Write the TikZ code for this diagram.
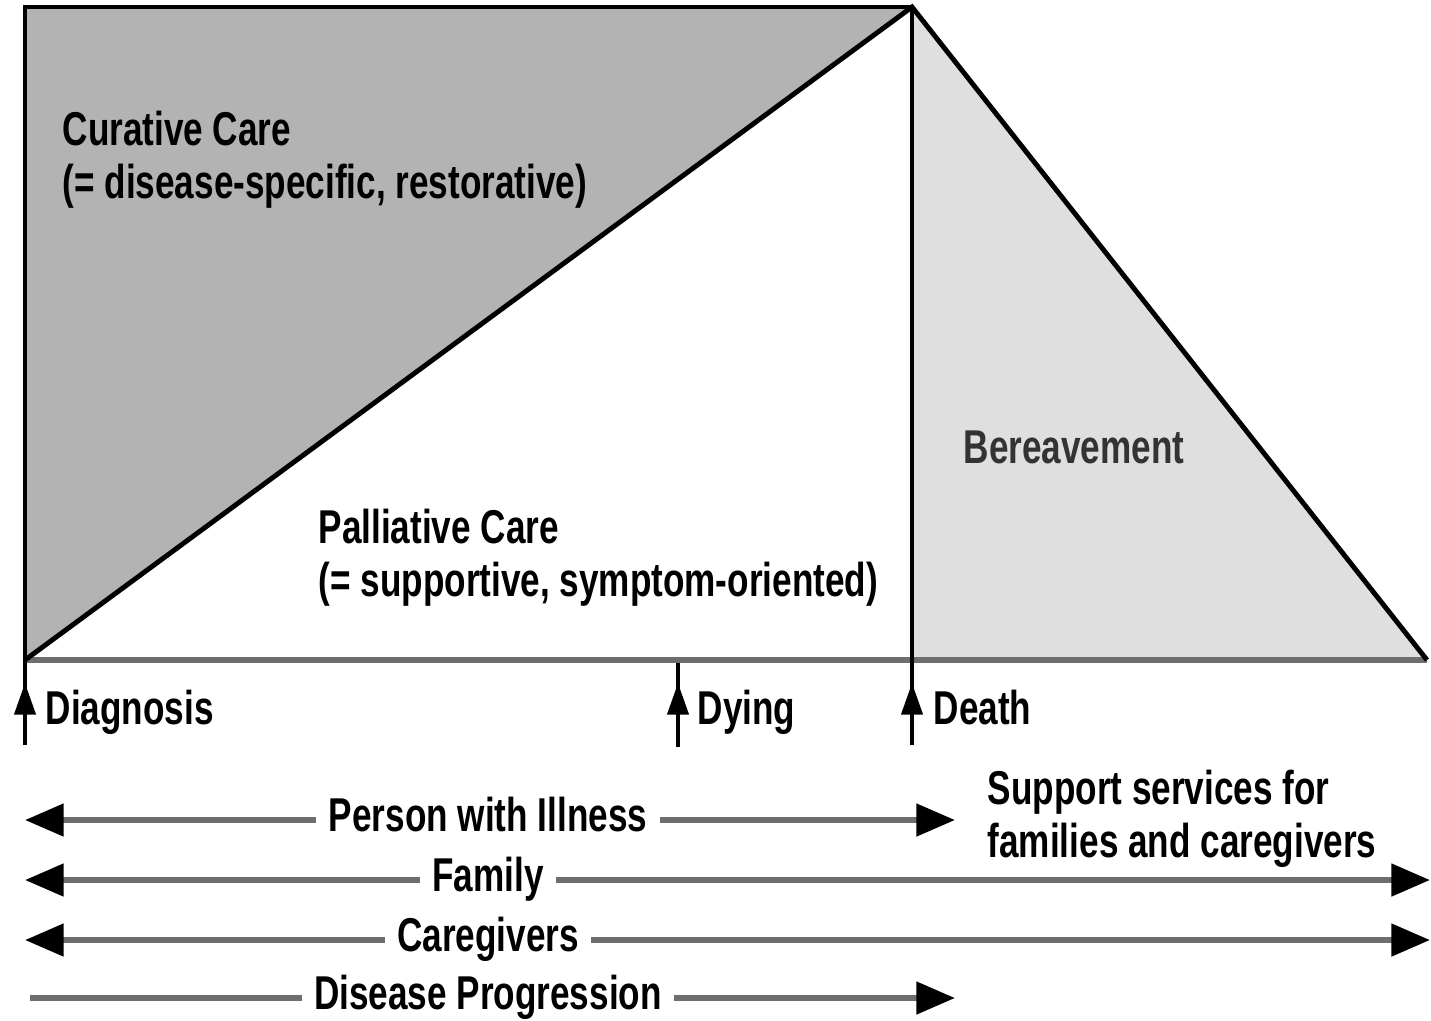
\documentclass[tikz,border=0pt]{standalone}
\usepackage{fontspec}
\setmainfont{Liberation Sans}[FakeStretch=0.74]
\usetikzlibrary{arrows.meta}
\definecolor{curfill}{HTML}{B3B3B3}
\definecolor{berfill}{HTML}{DFDFDF}
\definecolor{lifeline}{HTML}{6E6E6E}

\begin{document}
\begin{tikzpicture}[x=0.01cm, y=-0.01cm, font=\fontsize{13.5}{15}\selectfont\bfseries,
    >={Triangle[length=11pt,width=9pt,color=black]},
    border/.style={line width=1.4pt, black},
    life/.style={line width=1.7pt, lifeline},
    marker/.style={line width=1.1pt, black, -{Triangle[length=9pt,width=6pt]}},
    txt/.style={anchor=west, align=left, inner sep=0pt},
    who/.style={text height=1.6ex, text depth=.4ex}]
    \useasboundingbox (0,0) rectangle (1431,1020);
    \coordinate (tl) at (25,7);
    \coordinate (apex) at (912,7);
    \coordinate (diag) at (25,660);
    \coordinate (death) at (912,660);
    \coordinate (fade) at (1427,660);
	\fill[curfill] (tl) -- (apex) -- (diag) -- cycle;
	\fill[berfill] (apex) -- (fade) -- (death) -- cycle;
	\draw[line width=1.8pt, lifeline] (diag) -- (fade);
	\draw[border] (diag) -- (apex) -- (fade);
    \coordinate (diag-foot) at (25,745);
    \coordinate (death-foot) at (912,745);
	\draw[border] (diag-foot) -- (tl) -- (apex) -- (death-foot);
    % markers under the time line
    \coordinate (diag-tip) at (25,683);
    \coordinate (dying) at (678,663);
    \coordinate (dying-tip) at (678,683);
    \coordinate (dying-foot) at (678,747);
    \coordinate (death-tip) at (912,683);
	\draw[marker] (diag-foot) -- (diag-tip);
	\draw[line width=1.1pt] (dying-foot) -- (dying);
	\draw[marker] (dying-foot) -- (dying-tip);
	\draw[marker] (death-foot) -- (death-tip);
    \node[txt, anchor=base west] (diagnosis) at (45,724) {Diagnosis};
    \node[txt, anchor=base west] (dyinglbl) at (697,724) {Dying};
    \node[txt, anchor=base west] (deathlbl) at (933,724) {Death};
    % regions
    \node[txt] (curative) at (62,160) {Curative Care\\(= disease-specific, restorative)};
    \node[txt] (palliative) at (318,558) {Palliative Care\\(= supportive, symptom-oriented)};
    \node[txt, text=black!80] (bereave) at (963,447) {Bereavement};
    \node[txt] (support) at (987,819) {Support services for\\families and caregivers};
    % who is covered
    \node[who] (person) at (488,820) {Person with Illness};
    \node[who] (family) at (488,880) {Family};
    \node[who] (givers) at (488,940) {Caregivers};
    \node[who] (disease) at (488,998) {Disease Progression};
    \coordinate (person-l) at (25,820);
    \coordinate (person-r) at (955,820);
    \coordinate (family-l) at (25,880);
    \coordinate (family-r) at (1430,880);
    \coordinate (givers-l) at (25,940);
    \coordinate (givers-r) at (1430,940);
    \coordinate (disease-l) at (30,998);
    \coordinate (disease-r) at (955,998);
	\draw[life,->] (person) -- (person-l);
	\draw[life,->] (person) -- (person-r);
	\draw[life,->] (family) -- (family-l);
	\draw[life,->] (family) -- (family-r);
	\draw[life,->] (givers) -- (givers-l);
	\draw[life,->] (givers) -- (givers-r);
	\draw[life] (disease) -- (disease-l);
	\draw[life,->] (disease) -- (disease-r);
\end{tikzpicture}
\end{document}
